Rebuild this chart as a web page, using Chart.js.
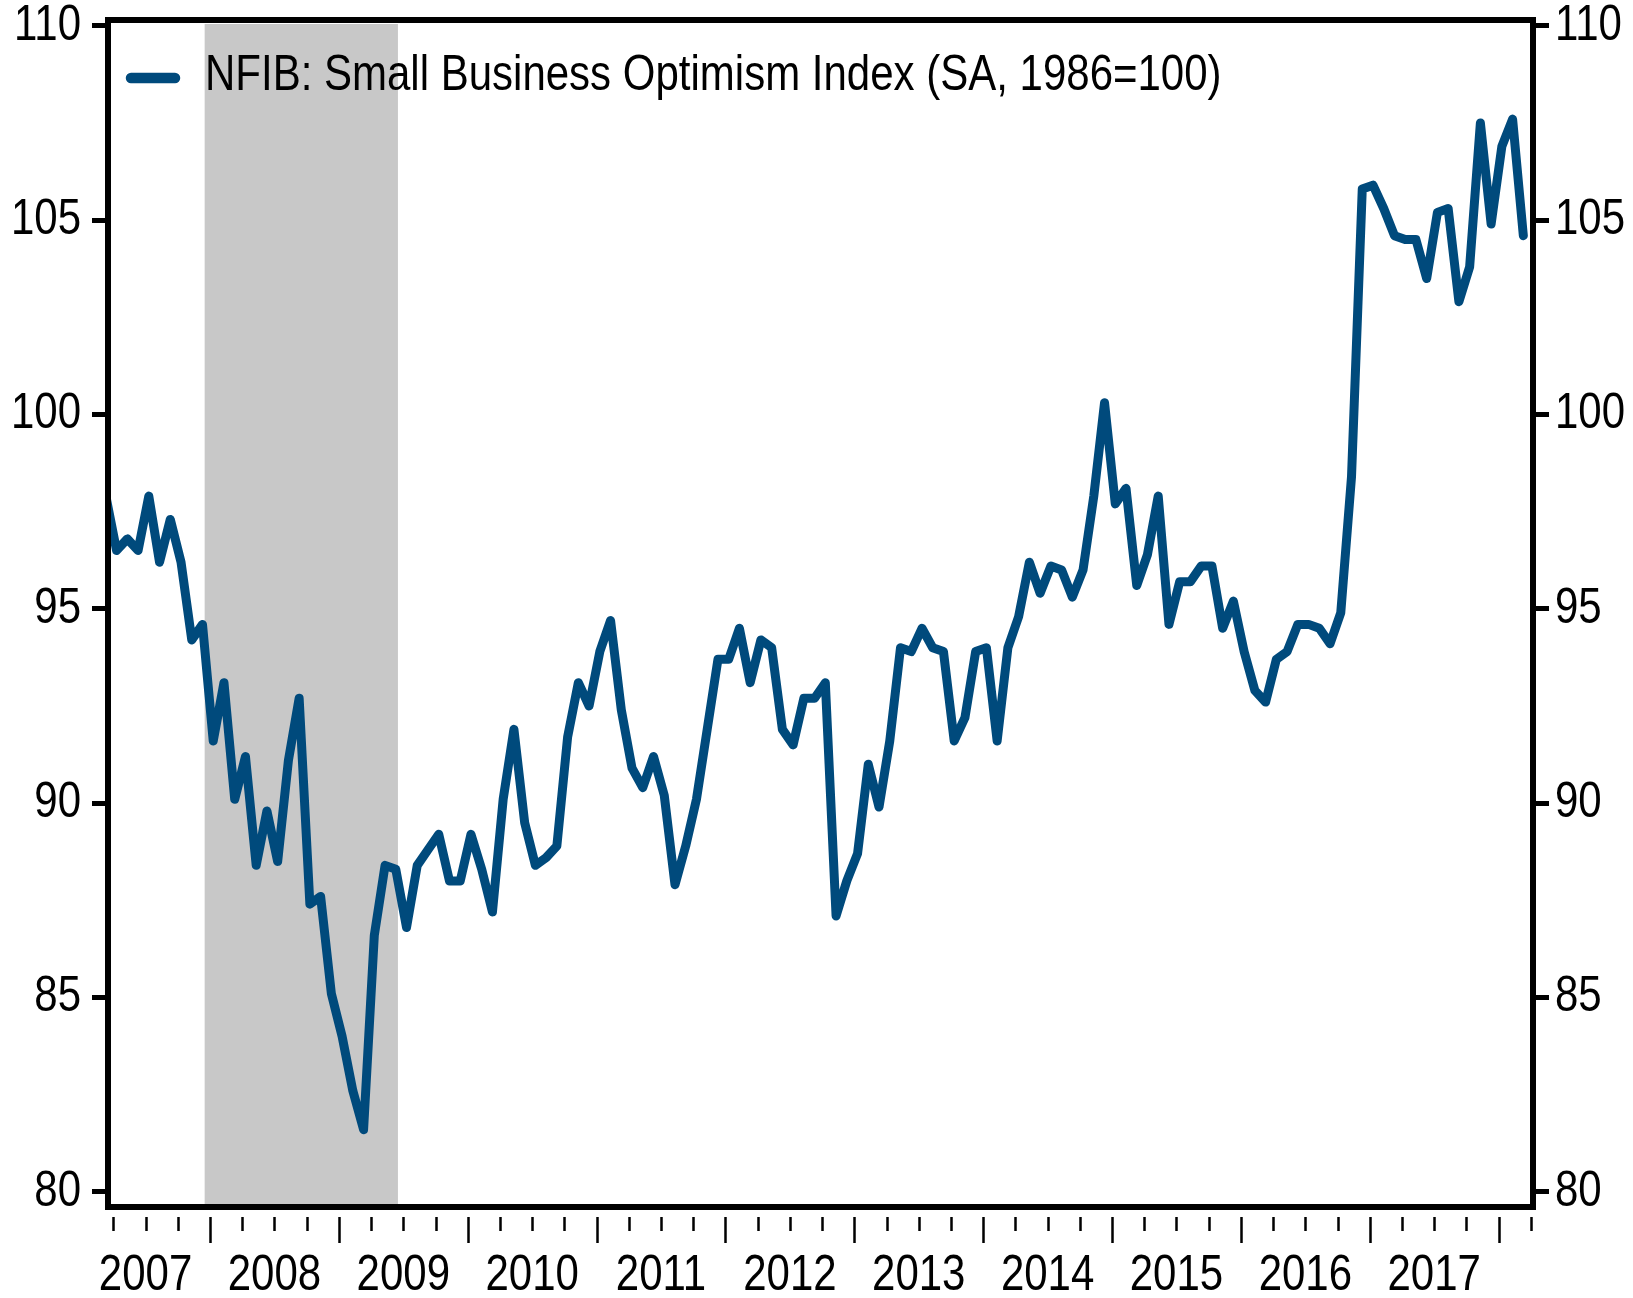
<!DOCTYPE html>
<html>
<head>
<meta charset="utf-8">
<title>NFIB Small Business Optimism</title>
<script src="https://cdn.jsdelivr.net/npm/chart.js@4.4.1/dist/chart.umd.min.js"></script>
<style>
  html, body { margin: 0; padding: 0; background: #fff; }
</style>
</head>
<body>
<canvas id="nfibChart" width="1633" height="1298"></canvas>
<script>
'use strict';

// ---- data ----

const seriesName = 'NFIB: Small Business Optimism Index (SA, 1986=100)';
const firstMonth = '2007-03';

// monthly, Mar 2007 .. Mar 2018
const optimism = [
  97.9, 96.5, 96.8, 96.5, 97.9, 96.2, 97.3, 96.2, 94.2, 94.6,
  91.6, 93.1, 90.1, 91.2, 88.4, 89.8, 88.5, 91.1, 92.7, 87.4, 87.6, 85.1,
  84.0, 82.6, 81.6, 86.6, 88.4, 88.3, 86.8, 88.4, 88.8, 89.2, 88.0, 88.0,
  89.2, 88.3, 87.2, 90.1, 91.9, 89.5, 88.4, 88.6, 88.9, 91.7, 93.1, 92.5,
  93.9, 94.7, 92.4, 90.9, 90.4, 91.2, 90.2, 87.9, 88.9, 90.1, 91.9, 93.7,
  93.7, 94.5, 93.1, 94.2, 94.0, 91.9, 91.5, 92.7, 92.7, 93.1, 87.1, 88.0,
  88.7, 91.0, 89.9, 91.6, 94.0, 93.9, 94.5, 94.0, 93.9, 91.6, 92.2, 93.9,
  94.0, 91.6, 94.0, 94.8, 96.2, 95.4, 96.1, 96.0, 95.3, 96.0, 97.9, 100.3,
  97.7, 98.1, 95.6, 96.4, 97.9, 94.6, 95.7, 95.7, 96.1, 96.1, 94.5, 95.2,
  93.9, 92.9, 92.6, 93.7, 93.9, 94.6, 94.6, 94.5, 94.1, 94.9, 98.4, 105.8,
  105.9, 105.3, 104.6, 104.5, 104.5, 103.5, 105.2, 105.3, 102.9, 103.8, 107.5, 104.9,
  106.9, 107.6, 104.6
];

const yearLabels = ['2007', '2008', '2009', '2010', '2011', '2012', '2013', '2014', '2015', '2016', '2017'];
const yTicks = [80, 85, 90, 95, 100, 105, 110];
const recession = ['2007-12', '2009-06'];

// ---- helpers ----

var baseYear = +yearLabels[0];

// months since Jan of the first year
function monthIndex(str) {
  var p = str.split('-');
  return (+p[0] - baseYear) * 12 + (+p[1] - 1);
}

var start = monthIndex(firstMonth);
var points = optimism.map(function (v, i) {
  return { x: start + i + 0.3, y: v };
});

// no narrow face installed, so squeeze Liberation Sans to look like Arial Narrow
var FONT = "'Liberation Sans', Arial, sans-serif";
var FONT_SIZE = 50;
var NARROW = 0.84;
var LINE_COLOR = '#004a7c';

function narrowText(ctx, s, x, y) {
  ctx.fillText(s, x, y, ctx.measureText(s).width * NARROW);
}

// ---- plugins ----

// grey recession band
var shadePlugin = {
  id: 'shade',
  beforeDatasetsDraw: function (chart) {
    var ctx = chart.ctx, xs = chart.scales.x, a = chart.chartArea;
    var x1 = xs.getPixelForValue(monthIndex(recession[0]) + 0.5);
    var x2 = xs.getPixelForValue(monthIndex(recession[1]) + 0.5);
    var top = a.top + 4;
    ctx.save();
    ctx.fillStyle = '#c8c8c8';
    ctx.fillRect(x1, top, x2 - x1, a.bottom - top);
    ctx.restore();
  }
};

// black box round the plot
var framePlugin = {
  id: 'frame',
  afterDatasetsDraw: function (chart) {
    var a = chart.chartArea, ctx = chart.ctx;
    ctx.save();
    ctx.strokeStyle = '#000';
    ctx.lineWidth = 6;
    ctx.strokeRect(a.left, a.top, a.right - a.left, a.bottom - a.top);
    ctx.restore();
  }
};

// quarter tick marks under the x axis, longer at year starts
var quarterTicks = {
  id: 'quarterTicks',
  afterDraw: function (chart) {
    var ctx = chart.ctx, xs = chart.scales.x, b = chart.chartArea.bottom;
    ctx.save();
    ctx.strokeStyle = '#000';
    ctx.lineWidth = 2.5;
    ctx.beginPath();
    xs.ticks.forEach(function (t) {
      var px = Math.round(xs.getPixelForValue(t.value)) + 0.5;
      var major = t.value % 12 === 0;
      ctx.moveTo(px, b + 10);
      ctx.lineTo(px, b + (major ? 36 : 24));
    });
    ctx.stroke();
    ctx.restore();
  }
};

// tick labels on both y axes and the year labels
var tickLabels = {
  id: 'tickLabels',
  afterDraw: function (chart) {
    var ctx = chart.ctx, ys = chart.scales.y, xs = chart.scales.x;
    var a = chart.chartArea;
    ctx.save();
    ctx.fillStyle = '#000';
    ctx.font = FONT_SIZE + 'px ' + FONT;
    ctx.textBaseline = 'middle';
    ys.ticks.forEach(function (t) {
      var py = ys.getPixelForValue(t.value);
      ctx.textAlign = 'right';
      narrowText(ctx, String(t.value), a.left - 27, py);
      ctx.textAlign = 'left';
      narrowText(ctx, String(t.value), a.right + 22, py);
    });
    ctx.textAlign = 'center';
    yearLabels.forEach(function (lab, i) {
      narrowText(ctx, lab, xs.getPixelForValue(i * 12 + 6), a.bottom + 69);
    });
    ctx.restore();
  }
};

// legend inside the plot, top left
var insideLegend = {
  id: 'insideLegend',
  afterDraw: function (chart) {
    var ctx = chart.ctx, ds = chart.data.datasets[0];
    ctx.save();
    ctx.strokeStyle = ds.borderColor;
    ctx.lineWidth = 10.5;
    ctx.lineCap = 'round';
    ctx.beginPath();
    ctx.moveTo(131, 78);
    ctx.lineTo(175, 78);
    ctx.stroke();
    ctx.fillStyle = '#000';
    ctx.font = FONT_SIZE + 'px ' + FONT;
    ctx.textBaseline = 'middle';
    ctx.textAlign = 'left';
    narrowText(ctx, ds.label, 205, 76);
    ctx.restore();
  }
};

// ---- chart ----

function yAxis(position, width) {
  return {
    type: 'linear',
    position: position,
    min: 79.61,
    max: 110.15,
    afterBuildTicks: function (scale) {
      scale.ticks = yTicks.map(function (v) { return { value: v }; });
    },
    afterFit: function (scale) { scale.width = width; },
    border: { display: false },
    grid: {
      display: true,
      drawOnChartArea: false,
      drawTicks: true,
      tickLength: 16,
      tickWidth: 5,
      tickColor: '#000'
    },
    ticks: { display: false }
  };
}

var ctx = document.getElementById('nfibChart');

new Chart(ctx, {
  type: 'line',
  data: {
    datasets: [{
      label: seriesName,
      data: points,
      borderColor: LINE_COLOR,
      borderWidth: 9,
      borderJoinStyle: 'round',
      borderCapStyle: 'round',
      pointRadius: 0,
      tension: 0,
      clip: 0,
      yAxisID: 'y'
    }]
  },
  options: {
    responsive: false,
    animation: false,
    devicePixelRatio: 1,
    layout: { padding: { top: 20, left: 0, right: 0, bottom: 0 } },
    plugins: {
      legend: { display: false },
      tooltip: { enabled: false }
    },
    scales: {
      x: {
        type: 'linear',
        min: 2.5,
        max: 135.2,
        afterBuildTicks: function (scale) {
          var t = [];
          for (var m = 3; m <= 135; m += 3) t.push({ value: m });
          scale.ticks = t;
        },
        afterFit: function (scale) { scale.height = 91; },
        border: { display: false },
        grid: { display: false, drawTicks: false },
        ticks: { display: false }
      },
      y: yAxis('left', 108),
      y2: yAxis('right', 100)
    }
  },
  plugins: [shadePlugin, framePlugin, quarterTicks, tickLabels, insideLegend]
});
</script>
</body>
</html>
